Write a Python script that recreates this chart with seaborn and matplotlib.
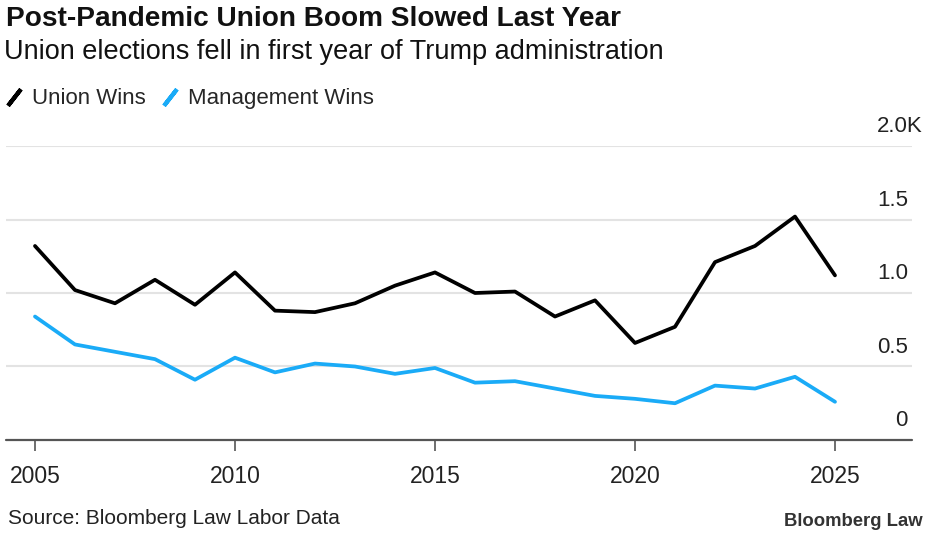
import pandas as pd
import matplotlib.pyplot as plt
import seaborn as sns
from matplotlib.lines import Line2D
from matplotlib.transforms import blended_transform_factory

# Union election outcomes, thousands
years = list(range(2005, 2026))
union_wins = [1.32, 1.02, 0.93, 1.09, 0.92, 1.14, 0.88, 0.87, 0.93, 1.05, 1.14,
              1.00, 1.01, 0.84, 0.95, 0.66, 0.77, 1.21, 1.32, 1.52, 1.12]
management_wins = [0.84, 0.65, 0.60, 0.55, 0.41, 0.56, 0.46, 0.52, 0.50, 0.45, 0.49,
                   0.39, 0.40, 0.35, 0.30, 0.28, 0.25, 0.37, 0.35, 0.43, 0.26]
y_ticks = [0, 0.5, 1.0, 1.5, 2.0]
y_labels = ["0", "0.5", "1.0", "1.5", "2.0K"]
x_ticks = [2005, 2010, 2015, 2020, 2025]

df = pd.DataFrame({
    "year": years * 2,
    "value": union_wins + management_wins,
    "outcome": ["Union Wins"] * len(years) + ["Management Wins"] * len(years),
})
colors = {"Union Wins": "#000000", "Management Wins": "#1AABF7"}

sns.set_style("white")
plt.rcParams['font.family'] = ['Liberation Sans', 'DejaVu Sans']

fig = plt.figure(figsize=(9.5, 5.43), dpi=100)
ax = fig.add_axes([0.0063, 0.1897, 0.9537, 0.5414])

sns.lineplot(data=df, x="year", y="value", hue="outcome", palette=colors,
             linewidth=2.7, legend=False, ax=ax)

ax.set_xlim(2004.275, 2026.925)
ax.set_ylim(0, 2.0)
ax.set_xlabel("")
ax.set_ylabel("")

# gridlines
for t in y_ticks[1:]:
    ax.axhline(t, color="#e3e3e3", linewidth=1.5, zorder=0)
ax.axhline(0, color="#555555", linewidth=1.6, zorder=3, clip_on=False)

ax.set_yticks([])
ax.set_xticks(x_ticks)
ax.set_xticklabels([str(x) for x in x_ticks], fontsize=16.5, color="#222222")
ax.tick_params(axis="x", bottom=True, length=8, width=1.2, color="#555555",
               pad=10, direction="out")
for s in ax.spines.values():
    s.set_visible(False)

# y labels sit above gridlines on the right
trans = blended_transform_factory(fig.transFigure, ax.transData)
for t, lab in zip(y_ticks, y_labels):
    xpos = 923 / 950 if lab.endswith("K") else 908 / 950
    ax.text(xpos, t + 0.13, lab, transform=trans, ha="right", va="center",
            fontsize=16, color="#222222")

fig.text(0.006, 0.965, "Post-Pandemic Union Boom Slowed Last Year",
         fontsize=20.2, fontweight="bold", ha="left", va="center", color="#111111")
fig.text(0.004, 0.905, "Union elections fell in first year of Trump administration",
         fontsize=19.5, ha="left", va="center", color="#111111")

handles = [Line2D([], [], color=colors[k], marker=(2, 2, -38), markersize=15,
                  markeredgewidth=3, linestyle="none") for k in colors]
fig.legend(handles, list(colors.keys()), loc="center left",
           bbox_to_anchor=(-0.0155, 0.818), ncol=2, frameon=False, fontsize=16,
           handlelength=0.8, handletextpad=0.4, columnspacing=0.7)

fig.text(0.008, 0.045, "Source: Bloomberg Law Labor Data", fontsize=15,
         ha="left", va="center", color="#222222")
fig.text(0.971, 0.04, "Bloomberg Law", fontsize=13.3, fontweight="bold",
         ha="right", va="center", color="#333333")

plt.savefig("out.png", dpi=100)
